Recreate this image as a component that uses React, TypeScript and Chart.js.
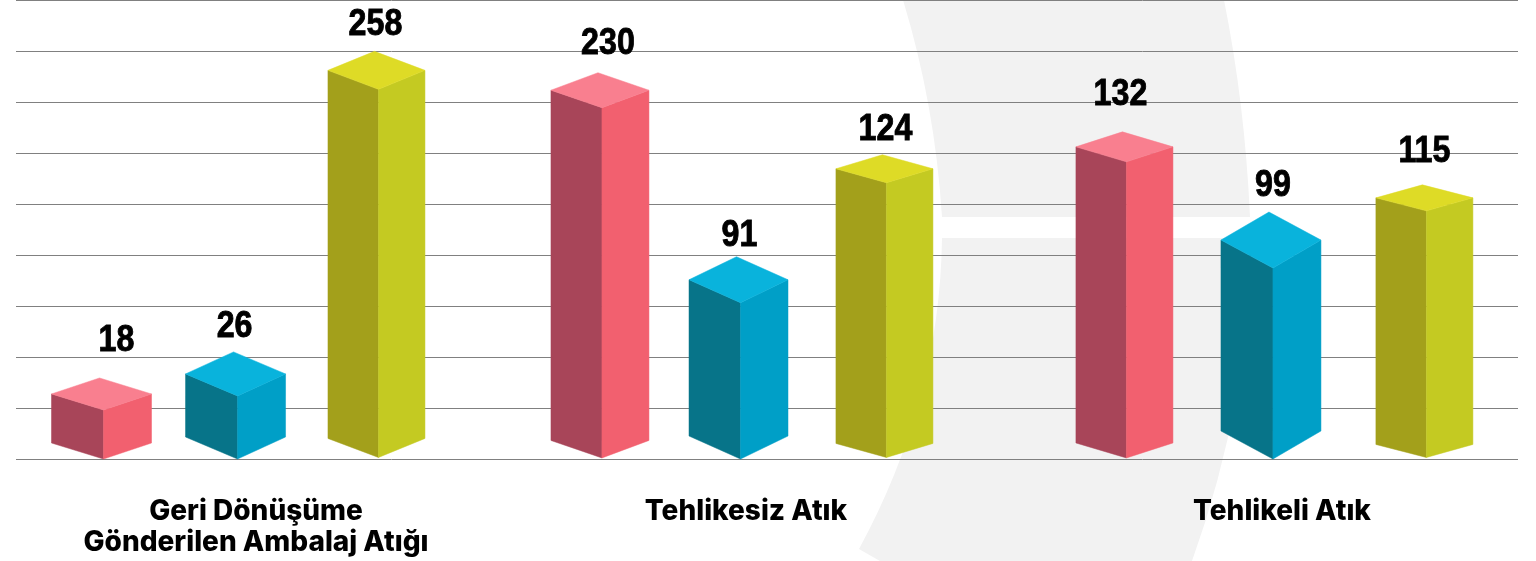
import React, { useEffect, useRef } from "react";
import { Chart, registerables, CategoryScale } from "chart.js";

const categories: (string | string[])[] = [
  ["Geri Dönüşüme", "Gönderilen Ambalaj Atığı"],
  "Tehlikesiz Atık",
  "Tehlikeli Atık",
];
// numbers printed above the columns
const pinkLabels = [18, 230, 132];
const blueLabels = [26, 91, 99];
const yellowLabels = [258, 124, 115];
// column tops as read against the (unlabelled) grid, grid-line units
const pinkTops = [0.97, 6.89, 5.83];
const blueTops = [1.245, 3.07, 3.75];
const yellowTops = [7.25, 5.42, 4.87];
const pinkBases = [0, 0.03, 0.03];
const blueBases = [0, 0, 0];
const yellowBases = [0.04, 0.04, 0.04];

const W = 1536;
const H = 561;

const PINK = { top: "#f97f8f", left: "#a84559", right: "#f2606f" };
const BLUE = { top: "#09b3dc", left: "#077489", right: "#009fc7" };
const YELLOW = { top: "#dedb26", left: "#a3a01b", right: "#c4ca22" };
const FACES = [PINK, BLUE, YELLOW];

// drawing adjustments, [dataset][category]
const SHIFT_X = [[-26, -28.2, -4.4], [-30.8, -28.5, 3.3], [-28.7, -21.4, 17.9]];
const WIDTHS = [[100, 98, 97], [100, 99, 100], [97, 97, 97]];
const TILTS = [[16, 17.5, 15], [22, 23, 28], [19, 14, 13]];
const LABEL_DX = [[17, 10, -2], [1, 3, 4], [1, 3, 2]];
const LABEL_DY = [[37, 29, 37], [25, 21, 26], [27, 25, 33]];
const LABEL_CENTERS = [256, 746, 1282];
const DIGIT_SQUEEZE = 0.87;

const TEXTS = [pinkLabels, blueLabels, yellowLabels];

const backdrop = {
  id: "backdrop",
  beforeDraw(chart: any) {
    const c = chart.ctx;
    c.save();
    c.fillStyle = "#f2f2f2";
    c.beginPath();
    c.moveTo(903, 0);
    c.quadraticCurveTo(935, 105, 942, 217);
    c.lineTo(1250, 217);
    c.quadraticCurveTo(1245, 105, 1224, 0);
    c.closePath();
    c.fill();
    c.beginPath();
    c.moveTo(942, 238);
    c.quadraticCurveTo(940, 400, 859, 549);
    c.lineTo(880, 561);
    c.lineTo(1192, 561);
    c.quadraticCurveTo(1250, 400, 1250, 238);
    c.closePath();
    c.fill();
    c.restore();
  },
};

const poly = (c: CanvasRenderingContext2D, fill: string, pts: number[][]) => {
  c.fillStyle = fill;
  c.strokeStyle = fill;
  c.lineWidth = 0.5;
  c.beginPath();
  pts.forEach((p, i) => (i ? c.lineTo(p[0], p[1]) : c.moveTo(p[0], p[1])));
  c.closePath();
  c.fill();
  c.stroke();
};

const isoBars = {
  id: "isoBars",
  beforeDatasetDraw(chart: any, args: any) {
    const c: CanvasRenderingContext2D = chart.ctx;
    const ds = args.index;
    const f = FACES[ds];
    args.meta.data.forEach((el: any, i: number) => {
      const mid = el.x + SHIFT_X[ds][i];
      const half = WIDTHS[ds][i] / 2;
      const L = mid - half;
      const R = mid + half;
      const F = mid + 2;
      const A = mid - 2;
      const d = TILTS[ds][i];
      const yTop = el.y;
      const yBot = el.base;
      poly(c, f.left, [[L, yTop - d], [F, yTop], [F, yBot], [L, yBot - d]]);
      poly(c, f.right, [[R, yTop - d], [F, yTop], [F, yBot], [R, yBot - d]]);
      poly(c, f.top, [[L, yTop - d], [A, yTop - 2 * d], [R, yTop - d], [F, yTop]]);
      c.save();
      c.translate(A + LABEL_DX[ds][i], yTop - 2 * d - LABEL_DY[ds][i]);
      c.scale(DIGIT_SQUEEZE, 1);
      c.fillStyle = "#000";
      c.strokeStyle = "#000";
      c.lineWidth = 0.9;
      c.font = "bold 37px 'Liberation Sans'";
      c.textAlign = "center";
      c.textBaseline = "middle";
      c.fillText(String(TEXTS[ds][i]), 0, 0);
      c.strokeText(String(TEXTS[ds][i]), 0, 0);
      c.restore();
    });
    return false;
  },
};

class PlacedCategoryScale extends CategoryScale {
  static id = "placedCategory";
  static defaults = CategoryScale.defaults;
  getPixelForTick(index: number) {
    return LABEL_CENTERS[index];
  }
}
Chart.register(...registerables, PlacedCategoryScale as any);

export default function App() {
  const ref = useRef<HTMLCanvasElement>(null);
  useEffect(() => {
    const series = [
      { tops: pinkTops, bases: pinkBases, name: "Pembe" },
      { tops: blueTops, bases: blueBases, name: "Mavi" },
      { tops: yellowTops, bases: yellowBases, name: "Sarı" },
    ];
    const chart = new Chart(ref.current!, {
      type: "bar",
      data: {
        labels: categories as any,
        datasets: series.map((s, ds) => ({
          label: s.name,
          data: s.tops.map((t, i) => [s.bases[i], t]) as any,
          backgroundColor: FACES[ds].right,
          categoryPercentage: 0.85,
          barPercentage: 0.69,
        })),
      },
      plugins: [backdrop, isoBars],
      options: {
        responsive: false,
        animation: false,
        layout: { padding: { top: 0, left: 0, right: 18, bottom: 0 } },
        plugins: { legend: { display: false }, tooltip: { enabled: false } },
        scales: {
          x: {
            type: "placedCategory" as any,
            offset: true,
            grid: { display: false },
            border: { display: false },
            ticks: {
              color: "#000",
              padding: 29,
              maxRotation: 0,
              autoSkip: false,
              font: { family: "Inter", weight: "800", size: 28, lineHeight: 1.107 },
            },
            afterFit(s: any) {
              s.height = H - 459.5;
            },
          },
          y: {
            min: 0,
            max: 9,
            border: { display: false },
            grid: { color: "#808080", lineWidth: 1, drawTicks: false },
            ticks: { display: false, stepSize: 1 },
            afterFit(s: any) {
              s.width = 16;
            },
          },
        },
      },
    });
    return () => chart.destroy();
  }, []);
  return (
    <canvas
      ref={ref}
      width={W}
      height={H}
      style={{ position: "fixed", left: 0, top: 0, width: W, height: H, background: "#fff" }}
    />
  );
}
